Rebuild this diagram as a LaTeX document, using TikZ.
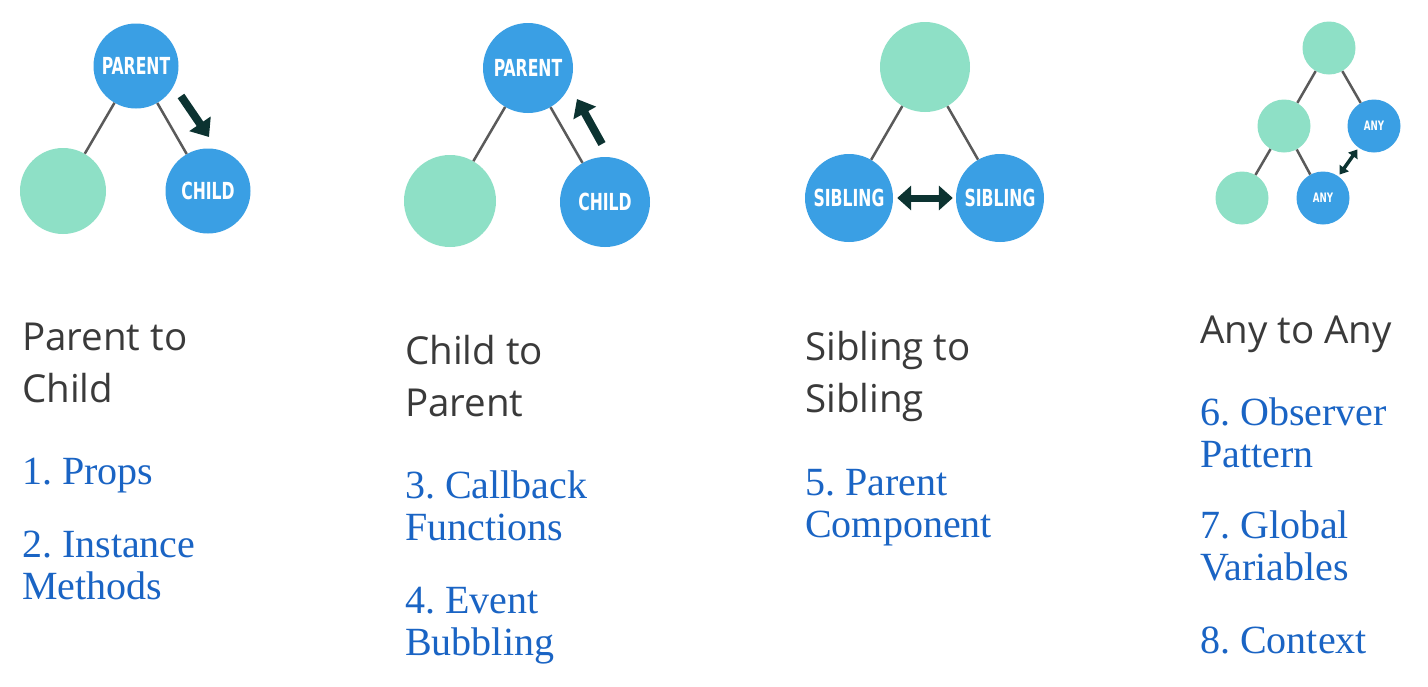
\documentclass[tikz,border=0pt]{standalone}
\usepackage{fontspec}
\usepackage{xcolor}
\usepackage{tikz}
\usetikzlibrary{arrows.meta}
\newfontfamily\headfont{Open Sans}
\newfontfamily\itemfont{Liberation Serif}
\newfontfamily\tagfont[FakeStretch=0.74]{DejaVu Sans Condensed}
\definecolor{compblue}{HTML}{3A9FE4}
\definecolor{leafgreen}{HTML}{8EE0C6}
\definecolor{edgegray}{HTML}{5A5A5A}
\definecolor{flowdark}{HTML}{0C3331}
\definecolor{headgray}{HTML}{3A3A3A}
\definecolor{itemblue}{HTML}{1A64C4}
\frenchspacing

\begin{document}
\begin{tikzpicture}[x=1pt,y=-1pt]
        \tikzset{leaf/.style = {circle, fill=leafgreen, inner sep=0pt, minimum size=#1},
                 comp/.style = {circle, fill=compblue, inner sep=0pt, minimum size=#1, text=white},
                 bigtag/.style = {font=\tagfont\bfseries\fontsize{23.5}{24}\selectfont},
                 smalltag/.style = {font=\tagfont\bfseries\fontsize{13}{14}\selectfont},
                 tree/.style = {draw=edgegray, line width=2.5pt},
                 flow/.style = {draw=flowdark, line width=8pt, -{Triangle[length=16pt,width=25pt]}},
                 swap/.style = {draw=flowdark, line width=7pt, {Triangle[length=14pt,width=24pt]}-{Triangle[length=14pt,width=24pt]}},
                 minorswap/.style = {draw=flowdark, line width=3.5pt, {Triangle[length=8pt,width=11pt]}-{Triangle[length=8pt,width=11pt]}},
                 head/.style = {anchor=north west, inner sep=0pt, align=left, text=headgray, font=\headfont\fontsize{38.5}{52}\selectfont},
                 item/.style = {anchor=north west, inner sep=0pt, align=left, text=itemblue, font=\itemfont\fontsize{40}{42}\selectfont}}
        \fill[white] (0,0) rectangle (1428,686);
        \useasboundingbox (0,0) rectangle (1428,686);
        % parent to child
        \node[comp=85pt, bigtag] (par1) at (136,66) {PARENT};
        \node[leaf=86pt] (sib1) at (63,191) {};
        \node[comp=85pt, bigtag] (chi1) at (208,191) {CHILD};
        \draw[tree] (par1) -- (sib1);
        \draw[tree] (par1) -- (chi1);
        \coordinate (down1) at (181,96);
        \coordinate (down2) at (209,137);
        \draw[flow] (down1) -- (down2);
        \node[head] (h1) at (22,313.6) {\strut Parent to\\Child};
        \node[item] (i1) at (22,454.6) {\strut 1. Props};
        \node[item] (i2) at (22,527.6) {\strut 2. Instance\\Methods};
        % child to parent
        \node[comp=90pt, bigtag] (par2) at (528,68) {PARENT};
        \node[leaf=92pt] (sib2) at (450,201) {};
        \node[comp=90pt, bigtag] (chi2) at (605,202) {CHILD};
        \draw[tree] (par2) -- (sib2);
        \draw[tree] (par2) -- (chi2);
        \coordinate (up1) at (602,144);
        \coordinate (up2) at (577,99);
        \draw[flow] (up1) -- (up2);
        \node[head] (h2) at (405,327.6) {\strut Child to\\Parent};
        \node[item] (i3) at (405,468.6) {\strut 3. Callback\\Functions};
        \node[item] (i4) at (405,583.6) {\strut 4. Event\\Bubbling};
        % sibling to sibling
        \node[leaf=90pt] (top3) at (925,67) {};
        \node[comp=88pt, bigtag] (sa3) at (849,198) {SIBLING};
        \node[comp=88pt, bigtag] (sb3) at (1000,198) {SIBLING};
        \draw[tree] (top3) -- (sa3);
        \draw[tree] (top3) -- (sb3);
        \draw[swap, shorten <=4pt, shorten >=3pt] (sa3) -- (sb3);
        \node[head] (h3) at (805,323.6) {\strut Sibling to\\Sibling};
        \node[item] (i5) at (805,465.6) {\strut 5. Parent\\Component};
        % any to any
        \node[leaf=53pt] (top4) at (1329,48) {};
        \node[leaf=53pt] (mid4) at (1284,126) {};
        \node[comp=53pt, smalltag] (anyr) at (1374,126) {ANY};
        \node[leaf=53pt] (low4) at (1242,198) {};
        \node[comp=53pt, smalltag] (anyb) at (1323,198) {ANY};
        \draw[tree] (top4) -- (mid4);
        \draw[tree] (top4) -- (anyr);
        \draw[tree] (mid4) -- (low4);
        \draw[tree] (mid4) -- (anyb);
        \draw[minorswap, shorten <=2pt, shorten >=2pt] (anyb) -- (anyr);
        \node[head] (h4) at (1200,306.6) {\strut Any to Any};
        \node[item] (i6) at (1200,395.6) {\strut 6. Observer\\Pattern};
        \node[item] (i7) at (1200,508.6) {\strut 7. Global\\Variables};
        \node[item] (i8) at (1200,623.6) {\strut 8. Context};
    \end{tikzpicture}
\end{document}
